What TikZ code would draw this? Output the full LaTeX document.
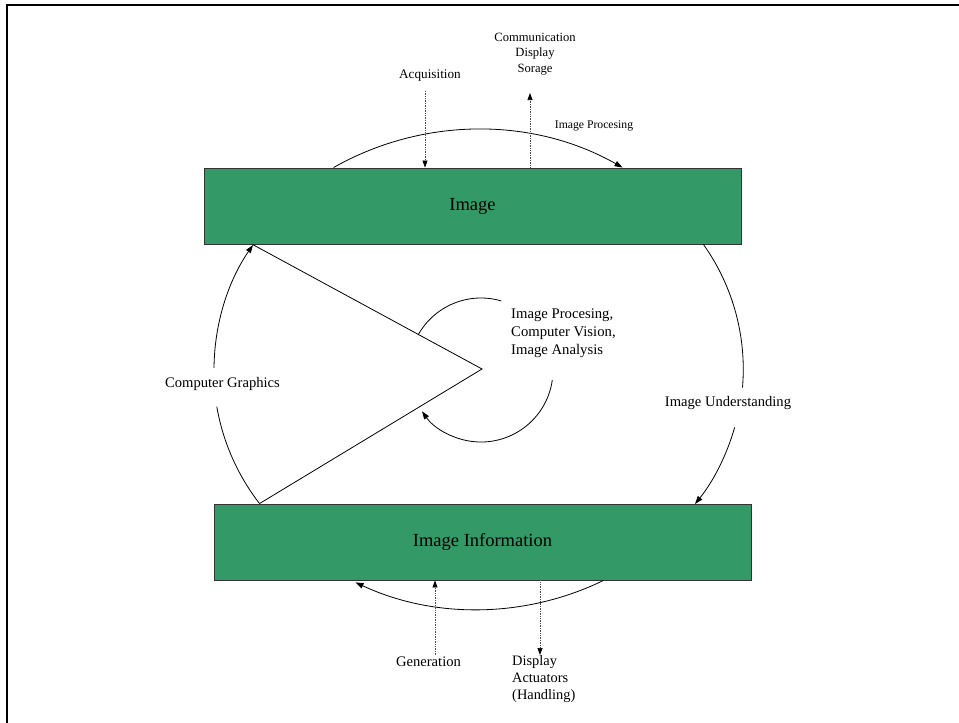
\documentclass[tikz,border=0pt]{standalone}
\usepackage{fontspec}
\setmainfont{Liberation Serif}
\usetikzlibrary{arrows.meta}
\definecolor{boxgreen}{HTML}{339966}
\begin{document}
\begin{tikzpicture}[x=1pt,y=1pt,
  box/.style={draw=black!80, line width=0.9pt, fill=boxgreen, minimum width=537pt, minimum height=76pt, inner sep=0pt, font=\fontsize{18.5}{22}\selectfont},
  lbl/.style={inner sep=0pt, font=\fontsize{14.6}{18}\selectfont},
  conn/.style={line width=0.8pt, black},
  tip/.style={-{Triangle[length=8pt,width=5.5pt]}},
  dotarrow/.style={densely dotted, line width=0.7pt, black!70, -{Triangle[length=7pt,width=5pt,color=black]}}
]
\useasboundingbox (0,0) rectangle (959,-723);
\clip (0,0) rectangle (959,-723);
% frame
\draw[line width=2pt] (7,-740) -- (7,-5) -- (975,-5);
% boxes
\node[box] (img) at (472.5,-206) {Image};
\node[box] (info) at (482.5,-542) {Image Information};
% central wedge
\coordinate (apex) at (482,-369);
\draw[conn] ([xshift=49pt]img.south west) -- (apex) -- ([xshift=46pt]info.north west);
% left arc (Computer Graphics)
\coordinate (cgc) at (433,-369.7);
\draw[conn] ([xshift=46pt]info.north west) arc[start angle=217.8, end angle=189.8, radius=219pt];
\draw[conn,tip] ([shift={(179.5:219pt)}]cgc) arc[start angle=179.5, end angle=145.3, radius=219pt];
% right arc (Image Understanding)
\coordinate (iuc) at (527.4,-368.7);
\draw[conn] ([xshift=-38pt]img.south east) arc[start angle=35.4, end angle=-4.9, radius=215.4pt];
\draw[conn,tip] ([shift={(-15.8:215.4pt)}]iuc) arc[start angle=-15.8, end angle=-38.9, radius=215.4pt];
% top arc
\draw[conn,tip] ([xshift=130pt]img.north west) arc[start angle=119.56, end angle=60.44, radius=292.9pt];
% bottom arc
\draw[conn,tip] ([xshift=-148pt]info.south east) arc[start angle=-64.1, end angle=-115, radius=288.5pt];
% central arc
\coordinate (cc) at (481,-370);
\draw[conn] ([shift={(151:72pt)}]cc) arc[start angle=151, end angle=73.6, radius=72pt];
\draw[conn,tip] ([shift={(-8:72pt)}]cc) arc[start angle=-8, end angle=-145, radius=72pt];
% labels
\node[lbl, font=\fontsize{13.2}{16}\selectfont] (acq) at (430,-76) {Acquisition};
\node[lbl, align=center, font=\fontsize{12.6}{15.8}\selectfont] (comm) at (535,-54) {Communication\\Display\\Sorage};
\node[lbl, font=\fontsize{11.7}{14}\selectfont] (ipt) at (594,-126) {Image Procesing};
\node[lbl] (cg) at (222.5,-384) {Computer Graphics};
\node[lbl] (iu) at (728,-402.7) {Image Understanding};
\node[lbl, align=left, anchor=west, font=\fontsize{14.7}{18}\selectfont] (ipc) at (511,-333) {Image Procesing,\\Computer Vision,\\Image Analysis};
\node[lbl] (gen) at (428.5,-662) {Generation};
\node[lbl, align=left, anchor=west, font=\fontsize{14.4}{17}\selectfont] (disp) at (512,-679) {Display\\Actuators\\(Handling)};
% dotted arrows
\coordinate (acqs) at (425,-91);
\draw[dotarrow] (acqs) -- (acqs |- img.north);
\coordinate (comms) at (530,-93);
\draw[dotarrow] (comms |- img.north) -- (comms);
\coordinate (gens) at (435,-655);
\draw[dotarrow] (gens) -- (gens |- info.south);
\coordinate (disps) at (540,-655);
\draw[dotarrow] (disps |- info.south) -- (disps);
\end{tikzpicture}
\end{document}
